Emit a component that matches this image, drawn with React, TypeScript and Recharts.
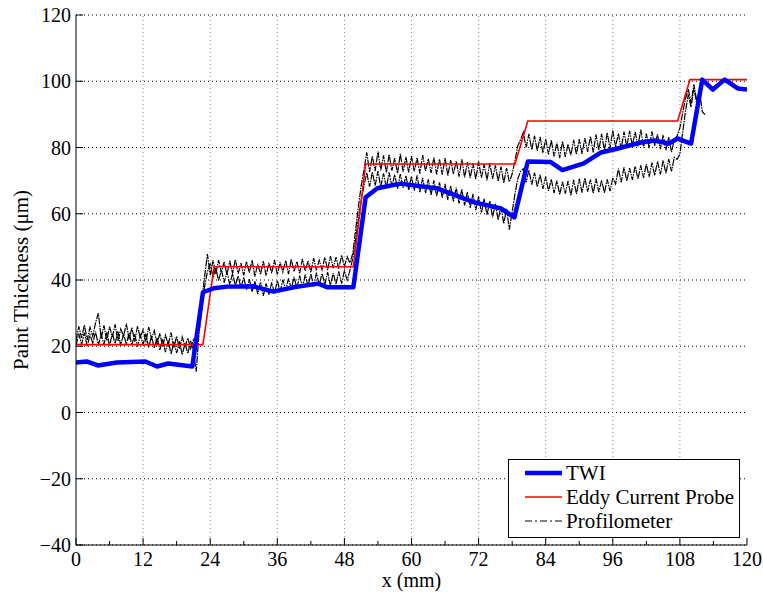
import React from 'react';
import { CartesianGrid, Legend, Line, LineChart, ReferenceLine, XAxis, YAxis } from 'recharts';

const FONT = "'Liberation Serif', 'Times New Roman', Times, serif";

// axis ticks
const xTicks = [0, 6, 12, 18, 24, 30, 36, 42, 48, 54, 60, 66, 72, 78, 84, 90, 96, 102, 108, 114, 120];
const xMajor = [12, 24, 36, 48, 60, 72, 84, 96, 108];
const yTicks = [-40, -20, 0, 20, 40, 60, 80, 100, 120];

// TWI (thick blue)
const twiX = [0, 1.9, 3.9, 7.3, 12.4, 14.5, 16.5, 20.8, 22.7, 24.6, 27, 31.7, 35.3, 38.9, 43.3, 45, 49.6, 51.8, 53.9, 58, 64.7, 71.1, 76, 78.4, 80.8, 84.9, 87, 90.8, 93.9, 96.9, 101, 103.4, 106, 107.6, 110, 112, 113.9, 116, 118.4, 120];
const twiY = [15.1, 15.4, 14.2, 15.1, 15.4, 13.9, 14.8, 13.9, 36.3, 37.5, 38.0, 38.1, 36.5, 37.8, 38.9, 37.8, 37.8, 65, 67.7, 69.1, 67.6, 63.5, 61.6, 58.9, 75.8, 75.6, 73.2, 75.2, 78.5, 79.7, 81.5, 82.1, 81.2, 82.7, 81.2, 100.5, 97.5, 100.5, 97.8, 97.5];

// eddy current probe (red steps)
const eddyX = [0, 22.7, 24.7, 49.6, 51.8, 78.5, 80.8, 107.6, 109.8, 120];
const eddyY = [20.5, 20.5, 44, 44, 75, 75, 88, 88, 100.5, 100.5];

// profilometer, two scans sampled every 0.5 mm from x = 0
const profStep = 0.5;
const profUpper = [
  21.8, 26.0, 22.5, 26.4, 21.9, 25.7, 23.0, 27.1, 30.0, 22.4,
  26.3, 21.7, 25.9, 22.8, 26.6, 21.5, 25.2, 23.1, 26.8, 22.0,
  25.6, 21.4, 26.1, 22.6, 25.0, 21.2, 25.8, 22.3, 24.7, 20.6,
  23.9, 19.8, 23.4, 20.5, 24.1, 19.6, 23.0, 19.2, 22.8, 19.9,
  22.5, 19.3, 22.0, 20.4, 26.0, 34.0, 41.0, 47.8, 41.5, 45.9,
  41.8, 46.0, 42.3, 45.5, 41.6, 45.8, 42.0, 46.2, 41.9, 45.1,
  41.4, 45.6, 42.2, 46.0, 41.0, 44.9, 41.7, 45.7, 41.3, 45.2,
  42.1, 46.1, 41.6, 45.4, 42.4, 45.9, 41.8, 46.3, 42.5, 45.6,
  42.0, 46.4, 42.7, 45.8, 42.3, 46.6, 42.9, 46.0, 43.1, 46.8,
  43.0, 47.2, 43.6, 46.9, 43.4, 47.5, 44.0, 47.0, 45.2, 48.0,
  55.0, 62.0, 68.5, 73.2, 78.5, 72.6, 77.4, 72.9, 78.8, 73.1,
  77.6, 72.4, 77.9, 73.0, 76.8, 72.2, 78.1, 72.7, 77.2, 72.5,
  77.4, 72.8, 76.9, 72.1, 77.7, 72.9, 76.6, 72.3, 77.0, 71.9,
  76.5, 71.8, 76.8, 71.5, 76.2, 72.0, 75.9, 71.2, 76.4, 71.0,
  75.6, 70.8, 75.2, 70.4, 75.8, 70.9, 74.9, 70.1, 75.3, 70.5,
  74.6, 69.8, 74.2, 69.3, 73.8, 69.6, 72.0, 76.0, 80.5, 82.3,
  84.6, 80.0, 84.1, 79.3, 83.5, 79.0, 83.2, 78.4, 82.6, 77.9,
  82.2, 77.3, 81.5, 76.8, 81.9, 77.2, 81.0, 77.6, 82.3, 77.9,
  82.5, 78.1, 82.8, 78.7, 83.4, 78.5, 83.9, 79.2, 84.1, 79.0,
  84.5, 79.6, 85.2, 80.1, 84.3, 79.4, 84.8, 80.2, 85.0, 80.6,
  84.7, 80.3, 85.4, 80.0, 84.2, 79.8, 84.9, 80.5, 84.0, 79.5,
  83.8, 79.2, 83.1, 78.6, 82.5, 83.5, 86.0, 90.5, 94.8, 97.6,
  93.4, 99.1, 94.2, 97.0,
];
const profLower = [
  20.2, 23.8, 20.6, 24.1, 20.0, 23.5, 20.9, 24.4, 20.3, 23.6,
  20.5, 24.2, 20.1, 23.9, 20.8, 24.5, 20.2, 23.7, 20.6, 24.0,
  20.4, 23.6, 19.9, 23.3, 20.5, 23.8, 19.6, 23.0, 19.4, 22.6,
  18.9, 22.1, 18.2, 21.7, 17.6, 21.3, 17.9, 21.5, 17.4, 21.0,
  17.8, 21.6, 18.3, 12.3, 24.0, 31.0, 38.0, 42.5, 44.8, 40.9,
  43.6, 39.8, 43.1, 39.2, 42.5, 38.6, 41.9, 38.3, 41.2, 37.7,
  40.8, 37.1, 40.2, 36.5, 39.6, 35.8, 39.4, 35.2, 39.0, 35.6,
  39.3, 35.9, 39.8, 36.4, 40.1, 36.8, 40.5, 37.2, 41.0, 37.5,
  41.3, 37.8, 41.6, 38.1, 41.9, 38.0, 42.2, 38.4, 42.0, 38.6,
  42.4, 38.3, 42.1, 38.7, 42.6, 38.9, 42.8, 40.0, 43.0, 46.5,
  52.0, 58.5, 64.0, 68.5, 72.4, 68.2, 72.6, 68.5, 72.9, 68.1,
  72.2, 67.9, 72.5, 68.3, 71.8, 67.6, 72.0, 67.8, 71.5, 67.2,
  71.3, 67.0, 71.6, 66.5, 70.8, 66.2, 70.4, 65.6, 70.1, 65.3,
  69.5, 64.8, 69.0, 64.2, 68.4, 63.7, 67.9, 63.1, 67.4, 62.5,
  66.6, 61.8, 66.0, 61.1, 65.2, 60.3, 64.5, 59.6, 63.8, 58.9,
  63.0, 58.1, 62.2, 57.0, 61.5, 55.2, 60.5, 66.0, 70.5, 72.8,
  73.6, 69.5, 73.2, 68.8, 72.4, 68.1, 71.8, 67.5, 71.2, 66.9,
  70.4, 66.2, 70.0, 65.8, 69.6, 66.1, 69.9, 65.5, 70.2, 66.0,
  70.5, 66.4, 70.8, 66.7, 70.3, 66.2, 70.6, 66.5, 70.1, 66.3,
  70.4, 66.8, 70.9, 69.0, 73.6, 69.5, 74.0, 69.9, 73.8, 70.2,
  74.3, 70.5, 74.6, 70.8, 75.0, 71.1, 75.4, 71.6, 75.8, 71.9,
  76.1, 72.2, 76.5, 72.8, 77.0, 76.4, 78.0, 84.5, 91.0, 96.0,
  92.2, 98.0, 93.5, 97.2, 90.8, 89.9,
];

const legendRows = [
  { name: 'TWI', color: '#0000ff', width: 4.5, dash: undefined as string | undefined },
  { name: 'Eddy Current Probe', color: '#ff0000', width: 1.5, dash: undefined },
  { name: 'Profilometer', color: '#000000', width: 1, dash: '7 3 2 3' },
];

const pairs = (xs: number[], ys: number[]) => xs.map((x, i) => ({ x, y: ys[i] }));
const profile = (ys: number[]) => ys.map((y, i) => ({ x: i * profStep, y }));

const twiData = pairs(twiX, twiY);
const eddyData = pairs(eddyX, eddyY);
const upperData = profile(profUpper);
const lowerData = profile(profLower);

const fmt = (v: number) => String(v).replace('-', '\u2212');
const textStyle = { fontSize: 20, fontFamily: FONT, fill: '#000' };

function BottomTick({ x, y, payload }: any) {
  const major = payload.value % 12 === 0;
  return (
    <g>
      <line x1={x} x2={x} y1={y} y2={y - (major ? 7 : 4)} stroke="#000" />
      {major && (
        <text x={x} y={y + 7} dy="0.71em" textAnchor="middle" style={textStyle}>
          {fmt(payload.value)}
        </text>
      )}
    </g>
  );
}

function TopTick({ x, y, payload }: any) {
  const major = payload.value % 12 === 0;
  return <line x1={x} x2={x} y1={y} y2={y + (major ? 7 : 4)} stroke="#000" />;
}

function LeftTick({ x, y, payload }: any) {
  return (
    <g>
      <line x1={x} x2={x + 7} y1={y} y2={y} stroke="#000" />
      <text x={x - 5} y={y} dy="0.35em" textAnchor="end" style={textStyle}>
        {fmt(payload.value)}
      </text>
    </g>
  );
}

function RightTick({ x, y }: any) {
  return <line x1={x} x2={x - 7} y1={y} y2={y} stroke="#000" />;
}

function LegendBox() {
  return (
    <svg width={232} height={79} style={{ display: 'block' }}>
      <rect x={0.5} y={0.5} width={231} height={78} fill="#fff" stroke="#000" />
      {legendRows.map((r, i) => (
        <g key={r.name}>
          <line x1={17} x2={54} y1={14 + i * 24} y2={14 + i * 24} stroke={r.color} strokeWidth={r.width} strokeDasharray={r.dash} />
          <text x={58} y={14 + i * 24} dy="0.35em" style={{ ...textStyle, fontSize: 21 }}>
            {r.name}
          </text>
        </g>
      ))}
    </svg>
  );
}

export default function App() {
  return (
    <div style={{ position: 'absolute', left: 0, top: 0, width: 763, height: 593, background: '#fff', fontFamily: FONT }}>
      <LineChart width={763} height={593} margin={{ top: 15, right: 16, bottom: 0, left: 0 }}>
        <CartesianGrid vertical={false} stroke="#000" strokeDasharray="1 3" />
        {xMajor.map((v) => (
          <ReferenceLine key={v} x={v} stroke="#888" strokeDasharray="1 3" />
        ))}
        <XAxis
          dataKey="x"
          type="number"
          domain={[0, 120]}
          ticks={xTicks}
          interval={0}
          height={48}
          tickSize={0}
          tickMargin={0}
          tickLine={false}
          tick={<BottomTick />}
          axisLine={{ stroke: '#000' }}
          allowDataOverflow
          label={{ value: 'x (mm)', position: 'insideBottom', offset: 6, style: textStyle }}
        />
        <XAxis
          xAxisId="top"
          orientation="top"
          type="number"
          domain={[0, 120]}
          ticks={xTicks}
          interval={0}
          height={0}
          tickSize={0}
          tickMargin={0}
          tickLine={false}
          tick={<TopTick />}
          axisLine={{ stroke: '#000' }}
        />
        <YAxis
          type="number"
          domain={[-40, 120]}
          ticks={yTicks}
          interval={0}
          width={76}
          tickSize={0}
          tickMargin={0}
          tickLine={false}
          tick={<LeftTick />}
          axisLine={{ stroke: '#000' }}
          allowDataOverflow
          label={{ value: 'Paint Thickness (\u03bcm)', angle: -90, position: 'insideLeft', offset: 21, style: { ...textStyle, fontSize: 21, textAnchor: 'middle' } }}
        />
        <YAxis
          yAxisId="right"
          orientation="right"
          type="number"
          domain={[-40, 120]}
          ticks={yTicks}
          interval={0}
          width={0}
          tickSize={0}
          tickMargin={0}
          tickLine={false}
          tick={<RightTick />}
          axisLine={{ stroke: '#000' }}
        />
        <Line data={lowerData} dataKey="y" stroke="#000" strokeWidth={1.2} strokeDasharray="7 1 1.5 1" dot={false} activeDot={false} isAnimationActive={false} legendType="none" />
        <Line data={upperData} dataKey="y" stroke="#000" strokeWidth={1.2} strokeDasharray="7 1 1.5 1" dot={false} activeDot={false} isAnimationActive={false} name="Profilometer" />
        <Line data={eddyData} dataKey="y" stroke="#ff0000" strokeWidth={1.6} dot={false} activeDot={false} isAnimationActive={false} name="Eddy Current Probe" />
        <Line data={twiData} dataKey="y" stroke="#0000ff" strokeWidth={4.5} strokeLinejoin="round" dot={false} activeDot={false} isAnimationActive={false} name="TWI" />
        <Legend
          layout="vertical"
          align="center"
          verticalAlign="middle"
          content={<LegendBox />}
          wrapperStyle={{ left: 508, top: 459, width: 232, height: 79 }}
        />
      </LineChart>
    </div>
  );
}
